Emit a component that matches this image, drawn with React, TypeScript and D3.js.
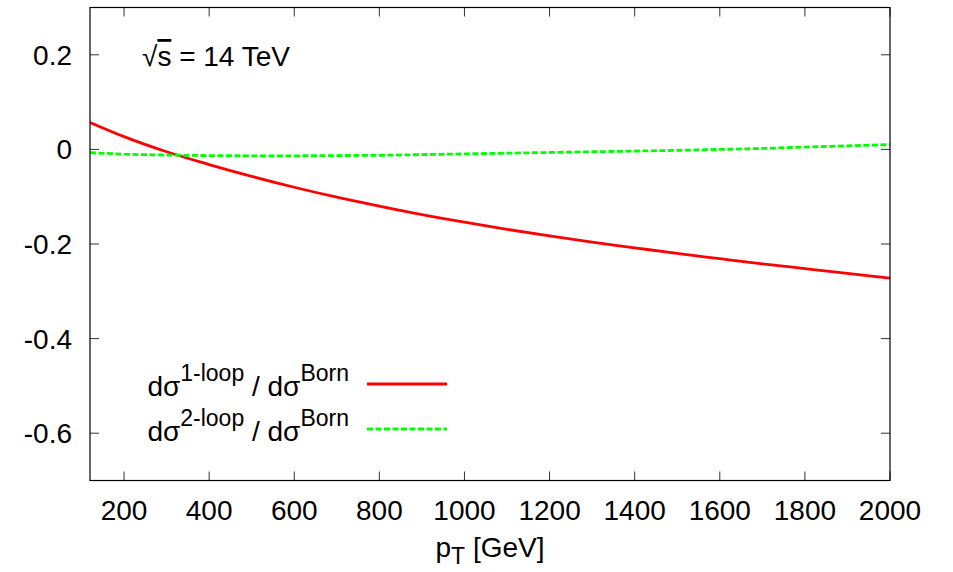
import React from 'react';
import * as d3 from 'd3';

// transverse momentum grid (GeV) and ratios
const ptValues = [120, 200, 300, 400, 500, 600, 700, 800, 900, 1000, 1100, 1200, 1300, 1400, 1500, 1600, 1700, 1800, 1900, 2000];
const oneLoop = [0.057, 0.027, -0.005, -0.032, -0.057, -0.080, -0.101, -0.120, -0.138, -0.154, -0.169, -0.183, -0.196, -0.208, -0.220, -0.231, -0.242, -0.252, -0.262, -0.272];
const twoLoop = [-0.007, -0.010, -0.012, -0.013, -0.0135, -0.0135, -0.013, -0.0125, -0.011, -0.0095, -0.008, -0.0065, -0.005, -0.0035, -0.002, 0.0, 0.002, 0.005, 0.0075, 0.010];
const xTicks = [200, 400, 600, 800, 1000, 1200, 1400, 1600, 1800, 2000];
const yTicks = [-0.6, -0.4, -0.2, 0, 0.2];
const yTickLabels = ['-0.6', '-0.4', '-0.2', '0', '0.2'];

const W = 953;
const H = 572;
const margin = { left: 90, right: 63, top: 7.5, bottom: 91.5 };
const FONT = 'Liberation Sans, Arial, Helvetica, sans-serif';
const FS = 28;
const SUP = 23;
const TICK = 9;

export default function App() {
	const x = d3.scaleLinear().domain([120, 2000]).range([margin.left, W - margin.right]);
	const y = d3.scaleLinear().domain([-0.7, 0.3]).range([H - margin.bottom, margin.top]);

	const lineGen = d3
		.line<number>()
		.x((_, i) => x(ptValues[i]))
		.y((d) => y(d))
		.curve(d3.curveMonotoneX);

	const [x0, x1] = x.range();
	const [yb, yt] = y.range();

	// legend rows
	const legend = [
		{ sup: '1-loop', color: '#ff0000', dash: null, base: 396, lineY: 384 },
		{ sup: '2-loop', color: '#00ff00', dash: '6,2.5', base: 441, lineY: 429 },
	];

	return (
		<div style={{ position: 'absolute', left: 0, top: 0 }}>
			<svg width={W} height={H} style={{ display: 'block', background: '#fff' }}>
				<defs>
					<clipPath id="plotclip">
						<rect x={x0} y={yt} width={x1 - x0} height={yb - yt} />
					</clipPath>
				</defs>

				{/* ticks, mirrored on all sides */}
				<g stroke="#333" strokeWidth={1}>
					{xTicks.map((t) => (
						<g key={'xt' + t}>
							<line x1={x(t)} x2={x(t)} y1={yb} y2={yb - TICK} />
							<line x1={x(t)} x2={x(t)} y1={yt} y2={yt + TICK} />
						</g>
					))}
					{yTicks.map((t) => (
						<g key={'yt' + t}>
							<line x1={x0} x2={x0 + TICK} y1={y(t)} y2={y(t)} />
							<line x1={x1} x2={x1 - TICK} y1={y(t)} y2={y(t)} />
						</g>
					))}
				</g>

				{/* tick labels */}
				<g fontFamily={FONT} fontSize={FS} fill="#000">
					{xTicks.map((t) => (
						<text key={'xl' + t} x={x(t)} y={520} textAnchor="middle">
							{t}
						</text>
					))}
					{yTicks.map((t, i) => (
						<text key={'yl' + t} x={72} y={y(t) + 10} textAnchor="end">
							{yTickLabels[i]}
						</text>
					))}
				</g>

				{/* curves */}
				<g clipPath="url(#plotclip)" fill="none">
					<path d={lineGen(oneLoop) || ''} stroke="#ff0000" strokeWidth={2.8} />
					<path d={lineGen(twoLoop) || ''} stroke="#00ff00" strokeWidth={2.8} strokeDasharray="6,2.5" />
				</g>

				{/* frame */}
				<rect x={x0} y={yt} width={x1 - x0} height={yb - yt} fill="none" stroke="#000" strokeWidth={1.2} />

				{/* energy label */}
				<text x={142} y={66} fontFamily={FONT} fontSize={FS} fill="#000">
					√<tspan style={{ textDecoration: 'overline' }}>s</tspan> = 14 TeV
				</text>

				{/* legend */}
				{legend.map((l) => (
					<g key={l.sup}>
						<text x={349} y={l.base} textAnchor="end" fontFamily={FONT} fontSize={FS} fill="#000">
							dσ
							<tspan fontSize={SUP} dy={-15}>
								{l.sup}
							</tspan>
							<tspan dy={15}> / dσ</tspan>
							<tspan fontSize={SUP} dy={-15}>
								Born
							</tspan>
						</text>
						<line
							x1={367}
							x2={447}
							y1={l.lineY}
							y2={l.lineY}
							stroke={l.color}
							strokeWidth={2.8}
							strokeDasharray={l.dash || undefined}
						/>
					</g>
				))}

				{/* axis title */}
				<text x={(x0 + x1) / 2} y={557} textAnchor="middle" fontFamily={FONT} fontSize={FS} fill="#000">
					p
					<tspan fontSize={SUP} dy={7}>
						T
					</tspan>
					<tspan dy={-7}> [GeV]</tspan>
				</text>
			</svg>
		</div>
	);
}
